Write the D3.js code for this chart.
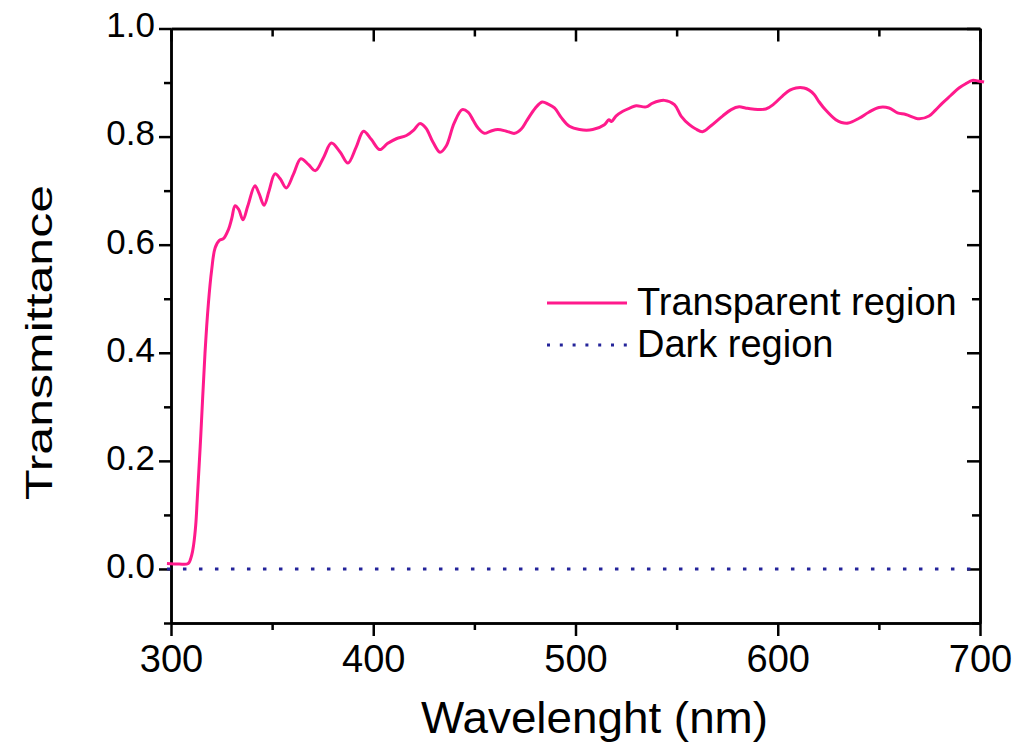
<!DOCTYPE html>
<html>
<head>
<meta charset="utf-8">
<script src="https://cdn.jsdelivr.net/npm/d3@7"></script>
<style>
    body { margin: 0; background: #fff; }
    svg { display: block; font-family: "Liberation Sans", Arial, sans-serif; }
    .axis path, .axis line { stroke: #000; stroke-width: 2.5; }
    .axis text { fill: #000; }
</style>
</head>
<body>
<svg id="chart" width="1024" height="755"></svg>
<script>
// data
var wavelength = [298, 304, 308.5, 310.2, 311.2, 312.2, 313, 314.7, 316.8, 318.5, 320.1, 321.8, 323.9, 325.9, 328.4, 330,
    331.7, 333.5, 335.6, 338, 341.5, 343.5, 346, 348.5, 351.4, 354, 357, 360.5, 364.2, 368, 371.4, 375.5, 379.3, 383.5,
    387.5, 391.5, 395.2, 399, 403.2, 407, 411.4, 416.4, 420, 423, 426, 429.5, 433, 436, 440, 444, 447, 449.3, 452, 455,
    458, 461.6, 465.8, 469.9, 473.2, 476, 480, 483.5, 486.5, 489.6, 493, 497, 502, 508.5, 514.3, 516.5, 517.8, 520,
    523.4, 527, 530, 534.9, 538.2, 543.9, 548.9, 552.2, 556.3, 559.5, 562.8, 567, 572.7, 577, 580.9, 584, 587.5, 594.1,
    598, 602.3, 606, 609, 613, 615.5, 618, 620.5, 623.7, 628.7, 631.5, 634.9, 640.2, 645, 650, 655, 659.2, 663.3, 669.9,
    674.8, 678, 681.4, 685.5, 689.6, 693, 696.2, 699, 702];
var transparent = [0.010, 0.009, 0.010, 0.025, 0.045, 0.080, 0.130, 0.245, 0.399, 0.492, 0.553, 0.594, 0.608, 0.611, 0.628, 0.648,
    0.672, 0.665, 0.646, 0.672, 0.709, 0.695, 0.673, 0.700, 0.731, 0.722, 0.705, 0.730, 0.759, 0.748, 0.737, 0.762, 0.788, 0.772,
    0.751, 0.780, 0.810, 0.795, 0.776, 0.787, 0.796, 0.802, 0.812, 0.824, 0.816, 0.790, 0.771, 0.782, 0.825, 0.850, 0.845, 0.831, 0.815, 0.806,
    0.810, 0.813, 0.810, 0.806, 0.814, 0.830, 0.852, 0.864, 0.860, 0.853, 0.835, 0.819, 0.813, 0.813, 0.822, 0.831, 0.828, 0.838,
    0.847, 0.853, 0.857, 0.855, 0.862, 0.867, 0.859, 0.838, 0.822, 0.814, 0.809, 0.820, 0.838, 0.850, 0.855, 0.853, 0.851, 0.851,
    0.860, 0.875, 0.886, 0.890, 0.890, 0.886, 0.878, 0.864, 0.849, 0.831, 0.826, 0.825, 0.834, 0.845, 0.854, 0.853, 0.844, 0.841, 0.833,
    0.838, 0.849, 0.862, 0.876, 0.890, 0.898, 0.904, 0.903, 0.901];
var darkWavelength = [298, 700];
var dark = [0, 0];

var xMajor = [300, 400, 500, 600, 700];
var xMinor = [350, 450, 550, 650];
var yMajor = [0.0, 0.2, 0.4, 0.6, 0.8, 1.0];
var yMinor = [-0.1, 0.1, 0.3, 0.5, 0.7, 0.9];

var legendLabels = ["Transparent region", "Dark region"];

var pink = "#ff1a8c";
var navy = "#24249a";

var plotLeft = 171, plotRight = 980, plotTop = 28.5, plotBottom = 623;

var svg = d3.select("#chart");

var xScale = d3.scaleLinear()
    .domain([300, 700])
    .range([plotLeft, plotRight]);
var yScale = d3.scaleLinear()
    .domain([-0.1, 1.0])
    .range([plotBottom, plotTop]);

//AXES
svg.append("g")
    .attr("class", "axis")
    .attr("transform", "translate(0," + plotBottom + ")")
    .call(d3.axisBottom(xScale).tickValues(xMinor).tickSize(7).tickSizeOuter(0).tickFormat(""));
svg.append("g")
    .attr("class", "axis")
    .attr("transform", "translate(0," + plotBottom + ")")
    .call(d3.axisBottom(xScale).tickValues(xMajor).tickSize(13).tickSizeOuter(0).tickPadding(9).tickFormat(d3.format("d")))
    .selectAll("text")
    .style("font-size", "38px");

svg.append("g")
    .attr("class", "axis")
    .attr("transform", "translate(0," + plotTop + ")")
    .call(d3.axisTop(xScale).tickValues(xMinor).tickSize(-8).tickSizeOuter(0).tickFormat(""));
svg.append("g")
    .attr("class", "axis")
    .attr("transform", "translate(0," + plotTop + ")")
    .call(d3.axisTop(xScale).tickValues(xMajor).tickSize(-13).tickSizeOuter(0).tickFormat(""));

svg.append("g")
    .attr("class", "axis")
    .attr("transform", "translate(" + plotLeft + ",0)")
    .call(d3.axisLeft(yScale).tickValues(yMinor).tickSize(7).tickSizeOuter(0).tickFormat(""));
svg.append("g")
    .attr("class", "axis")
    .attr("transform", "translate(" + plotLeft + ",0)")
    .call(d3.axisLeft(yScale).tickValues(yMajor).tickSize(12).tickSizeOuter(0).tickPadding(4).tickFormat(d3.format(".1f")))
    .selectAll("text")
    .attr("dy", "0.24em")
    .style("font-size", "35px");

svg.append("g")
    .attr("class", "axis")
    .attr("transform", "translate(" + plotRight + ",0)")
    .call(d3.axisRight(yScale).tickValues(yMinor).tickSize(-8).tickSizeOuter(0).tickFormat(""));
svg.append("g")
    .attr("class", "axis")
    .attr("transform", "translate(" + plotRight + ",0)")
    .call(d3.axisRight(yScale).tickValues(yMajor).tickSize(-13).tickSizeOuter(0).tickFormat(""));

// axis titles
svg.append("text")
    .attr("x", (421 + 768) / 2)
    .attr("y", 733)
    .attr("text-anchor", "middle")
    .attr("textLength", 347)
    .attr("lengthAdjust", "spacingAndGlyphs")
    .style("font-size", "44px")
    .text("Wavelenght (nm)");

svg.append("text")
    .attr("transform", "translate(52," + (185 + 500) / 2 + ") rotate(-90)")
    .attr("text-anchor", "middle")
    .attr("textLength", 315)
    .attr("lengthAdjust", "spacingAndGlyphs")
    .style("font-size", "37px")
    .text("Transmittance");

//LINES
var line = d3.line()
    .x(function(d) { return xScale(d[0]); })
    .y(function(d) { return yScale(d[1]); });

svg.append("path")
    .datum(darkWavelength.map(function(w, i) { return [w, dark[i]]; }))
    .attr("d", line)
    .attr("fill", "none")
    .attr("stroke", navy)
    .attr("stroke-width", 3)
    .attr("stroke-dasharray", "3.5,12.5");

svg.append("path")
    .datum(wavelength.map(function(w, i) { return [w, transparent[i]]; }))
    .attr("d", line.curve(d3.curveCatmullRom.alpha(0.5)))
    .attr("fill", "none")
    .attr("stroke", pink)
    .attr("stroke-width", 3)
    .attr("stroke-linejoin", "round");

//LEGEND
var legend = svg.append("g").attr("transform", "translate(547,303)");
legend.append("line")
    .attr("x1", 0).attr("x2", 80)
    .attr("y1", 0).attr("y2", 0)
    .attr("stroke", pink)
    .attr("stroke-width", 3);
legend.append("line")
    .attr("x1", 0).attr("x2", 80)
    .attr("y1", 42).attr("y2", 42)
    .attr("stroke", navy)
    .attr("stroke-width", 3)
    .attr("stroke-dasharray", "3,9.8");
legend.selectAll("text.lbl")
    .data(legendLabels)
    .enter().append("text")
    .attr("class", "lbl")
    .attr("x", 90)
    .attr("y", function(d, i) { return 12 + i * 42; })
    .style("font-size", "38px")
    .text(function(d) { return d; });
</script>
</body>
</html>
